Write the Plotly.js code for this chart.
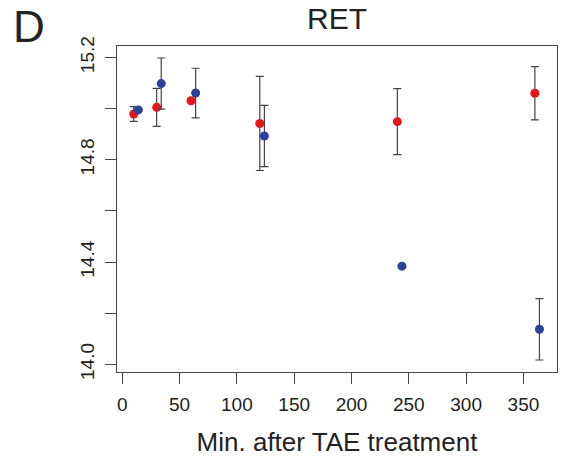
<!DOCTYPE html>
<html>
<head>
<meta charset="utf-8">
<script src="https://cdn.plot.ly/plotly-3.0.1.min.js"></script>
<style>html,body{margin:0;padding:0;background:#fff;}#chart{width:561px;height:461px;}</style>
</head>
<body>
<div id="chart"></div>
<script>
// Data
const timesRed = [10, 30, 60, 120, 240, 360];
const timesBlue = [14, 34, 64, 124, 244, 364];
const valuesRed = [14.979, 15.005, 15.031, 14.942, 14.949, 15.060];
const errorsRed = [0.029, 0.074, 0.004, 0.184, 0.129, 0.104];
const valuesBlue = [14.995, 15.098, 15.061, 14.893, 14.384, 14.137];
const errorsBlue = [0.004, 0.100, 0.097, 0.120, 0.004, 0.120];
const xTickVals = [0, 50, 100, 150, 200, 250, 300, 350];
const yTickVals = [14.0, 14.2, 14.4, 14.6, 14.8, 15.0, 15.2];
const yTickText = ['14.0', '', '14.4', '', '14.8', '', '15.2'];

const FONT = 'Liberation Sans, Arial, Helvetica, sans-serif';
const errStyle = {type: 'data', visible: true, thickness: 1.2, width: 4, color: '#444'};

const traces = [
  {
    x: timesRed, y: valuesRed, type: 'scatter', mode: 'markers', name: 'red',
    marker: {color: '#e4161e', size: 9},
    error_y: Object.assign({array: errorsRed}, errStyle),
    cliponaxis: false
  },
  {
    x: timesBlue, y: valuesBlue, type: 'scatter', mode: 'markers', name: 'blue',
    marker: {color: '#2b419c', size: 9},
    error_y: Object.assign({array: errorsBlue}, errStyle),
    cliponaxis: false
  }
];

const layout = {
  width: 561, height: 461,
  margin: {l: 117, r: 4, t: 46, b: 89, pad: 0},
  paper_bgcolor: '#ffffff', plot_bgcolor: '#ffffff',
  showlegend: false,
  font: {family: FONT, color: '#222'},
  title: {
    text: 'RET', font: {family: FONT, size: 30, color: '#222'},
    x: 0.5, xref: 'paper', xanchor: 'center',
    y: 0.9825, yref: 'container', yanchor: 'top'
  },
  xaxis: {
    range: [-4.6, 379.3], tickmode: 'array', tickvals: xTickVals,
    ticks: 'outside', ticklen: 11, tickwidth: 1, tickcolor: '#444',
    showline: true, mirror: true, linecolor: '#444', linewidth: 1,
    showgrid: false, zeroline: false,
    tickfont: {family: FONT, size: 19, color: '#222'},
    ticklabelstandoff: 4,
    title: {text: 'Min. after TAE treatment', font: {family: FONT, size: 26, color: '#222'}, standoff: 19}
  },
  yaxis: {
    range: [13.970, 15.245], tickmode: 'array', tickvals: yTickVals, ticktext: yTickText,
    tickangle: -90,
    ticks: 'outside', ticklen: 11, tickwidth: 1, tickcolor: '#444',
    showline: true, mirror: true, linecolor: '#444', linewidth: 1,
    showgrid: false, zeroline: false,
    tickfont: {family: FONT, size: 19, color: '#222'},
    ticklabelstandoff: 3
  },
  annotations: [
    {text: 'D', xref: 'paper', yref: 'paper', x: -0.2409, y: 1.141,
     xanchor: 'left', yanchor: 'top', showarrow: false,
     font: {family: FONT, size: 44, color: '#222'}}
  ]
};

Plotly.newPlot('chart', traces, layout, {displayModeBar: false, staticPlot: true});
</script>
</body>
</html>
